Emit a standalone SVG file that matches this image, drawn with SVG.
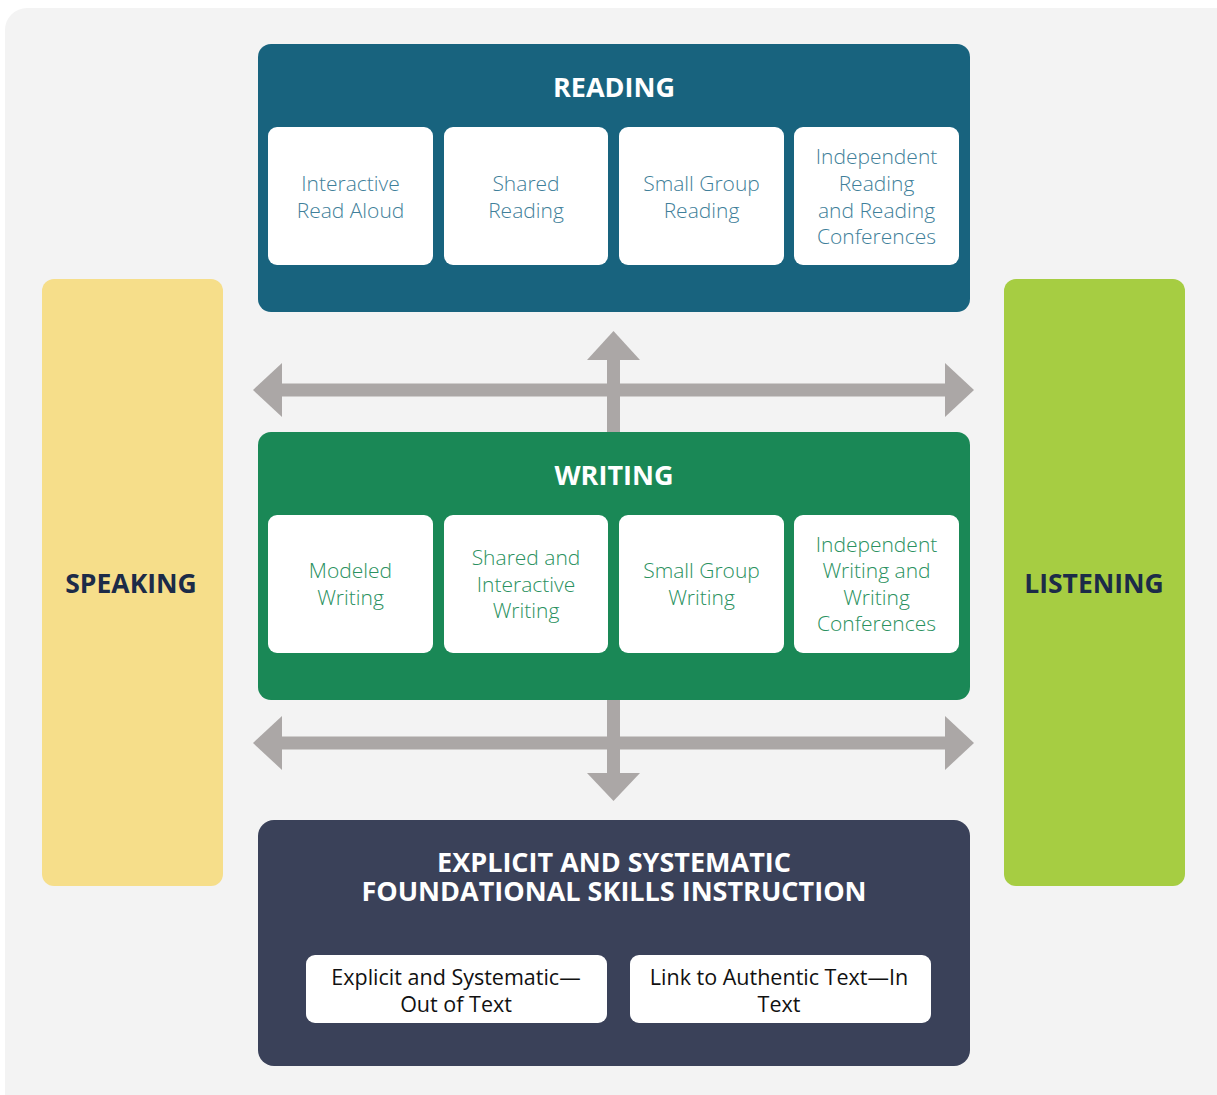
<svg xmlns="http://www.w3.org/2000/svg" width="1217" height="1095" viewBox="0 0 1217 1095">
<style>
.title{font-family:"Open Sans","Liberation Sans",sans-serif;font-weight:700;font-size:27px;fill:#ffffff;text-anchor:middle}
.side{font-family:"Open Sans","Liberation Sans",sans-serif;font-weight:700;font-size:26.5px;fill:#1c2b48;text-anchor:middle}
.card{fill:#ffffff}
.rt{font-family:"Open Sans","Liberation Sans",sans-serif;font-weight:300;font-size:21px;fill:#3f7f9a;text-anchor:middle}
.wt{font-family:"Open Sans","Liberation Sans",sans-serif;font-weight:300;font-size:21px;fill:#2a9160;text-anchor:middle}
.bt{font-family:"Open Sans","Liberation Sans",sans-serif;font-weight:400;font-size:21.5px;fill:#111111;text-anchor:middle}
.arrow{fill:#aba7a6}
</style>
<rect x="5" y="8" width="1240" height="1110" rx="22" fill="#f3f3f3"/>
<g id="speaking">
<rect x="42" y="279" width="181" height="607" rx="12" fill="#f6de8a"/>
<text class="side" x="131" y="593">SPEAKING</text>
</g>
<g id="listening">
<rect x="1004" y="279" width="181" height="607" rx="12" fill="#a6cd42"/>
<text class="side" x="1094" y="593">LISTENING</text>
</g>
<g id="connectors">
<rect class="arrow" x="607" y="358" width="13" height="75"/>
<polygon class="arrow" points="613.5,331 640,360 587,360"/>
<rect class="arrow" x="280" y="383.5" width="668" height="13"/>
<polygon class="arrow" points="253,390 282,363 282,417"/>
<polygon class="arrow" points="974,390 945,363 945,417"/>
<rect class="arrow" x="607" y="699" width="13" height="76"/>
<polygon class="arrow" points="613.5,801 640,773 587,773"/>
<rect class="arrow" x="280" y="736.5" width="668" height="13"/>
<polygon class="arrow" points="253,743 282,716 282,770"/>
<polygon class="arrow" points="974,743 945,716 945,770"/>
</g>
<g id="reading">
<rect x="258" y="44" width="712" height="268" rx="13" fill="#18637e"/>
<text class="title" x="614" y="97">READING</text>
<g id="interactive-read-aloud"><rect class="card" x="268" y="127" width="165" height="138" rx="9"/>
<text class="rt" x="350.5" y="191">Interactive</text><text class="rt" x="350.5" y="218">Read Aloud</text></g>
<g id="shared-reading"><rect class="card" x="444" y="127" width="164" height="138" rx="9"/>
<text class="rt" x="526" y="191">Shared</text><text class="rt" x="526" y="218">Reading</text></g>
<g id="small-group-reading"><rect class="card" x="619" y="127" width="165" height="138" rx="9"/>
<text class="rt" x="701.5" y="191">Small Group</text><text class="rt" x="701.5" y="218">Reading</text></g>
<g id="independent-reading"><rect class="card" x="794" y="127" width="165" height="138" rx="9"/>
<text class="rt" x="876.5" y="164">Independent</text><text class="rt" x="876.5" y="191">Reading</text><text class="rt" x="876.5" y="218">and Reading</text><text class="rt" x="876.5" y="244">Conferences</text></g>
</g>
<g id="writing">
<rect x="258" y="432" width="712" height="268" rx="13" fill="#1a8856"/>
<text class="title" x="614" y="485">WRITING</text>
<g id="modeled-writing"><rect class="card" x="268" y="515" width="165" height="138" rx="9"/>
<text class="wt" x="350.5" y="578">Modeled</text><text class="wt" x="350.5" y="605">Writing</text></g>
<g id="shared-interactive-writing"><rect class="card" x="444" y="515" width="164" height="138" rx="9"/>
<text class="wt" x="526" y="565">Shared and</text><text class="wt" x="526" y="592">Interactive</text><text class="wt" x="526" y="618">Writing</text></g>
<g id="small-group-writing"><rect class="card" x="619" y="515" width="165" height="138" rx="9"/>
<text class="wt" x="701.5" y="578">Small Group</text><text class="wt" x="701.5" y="605">Writing</text></g>
<g id="independent-writing"><rect class="card" x="794" y="515" width="165" height="138" rx="9"/>
<text class="wt" x="876.5" y="552">Independent</text><text class="wt" x="876.5" y="578">Writing and</text><text class="wt" x="876.5" y="605">Writing</text><text class="wt" x="876.5" y="631">Conferences</text></g>
</g>
<g id="foundational">
<rect x="258" y="820" width="712" height="246" rx="16" fill="#3a4159"/>
<text class="title" x="614" y="872">EXPLICIT AND SYSTEMATIC</text>
<text class="title" x="614" y="901">FOUNDATIONAL SKILLS INSTRUCTION</text>
<g id="out-of-text"><rect class="card" x="306" y="955" width="301" height="68" rx="9"/>
<text class="bt" x="456" y="985">Explicit and Systematic—</text><text class="bt" x="456" y="1012">Out of Text</text></g>
<g id="in-text"><rect class="card" x="630" y="955" width="301" height="68" rx="9"/>
<text class="bt" x="779" y="985">Link to Authentic Text—In</text><text class="bt" x="779" y="1012">Text</text></g>
</g>
</svg>
